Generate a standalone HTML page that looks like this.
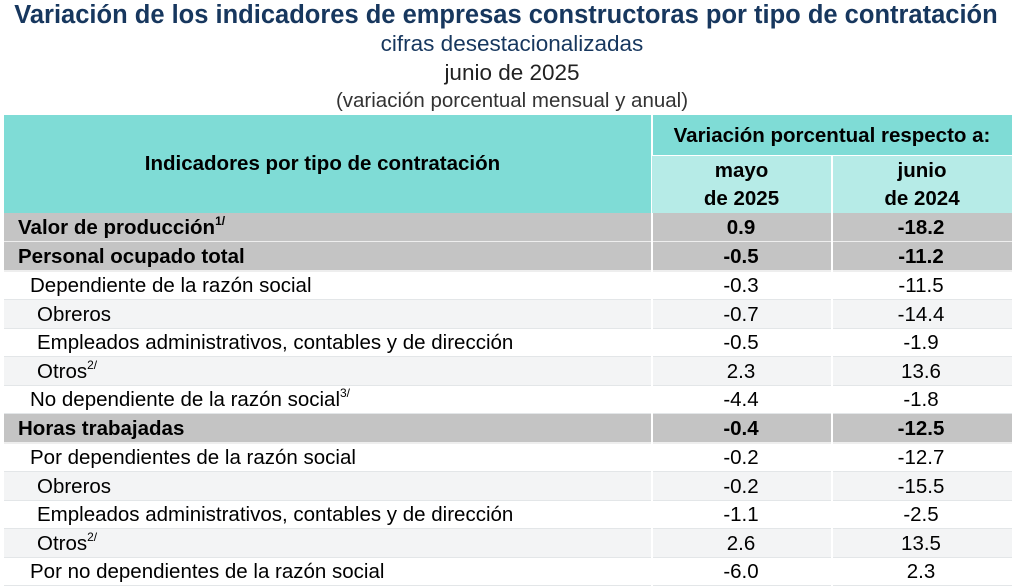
<!DOCTYPE html>
<html><head><meta charset="utf-8"><style>
body{margin:0;width:1024px;height:586px;background:#fff;font-family:"Liberation Sans",Arial,sans-serif;position:relative;overflow:hidden}
.t{position:absolute;left:0;width:1016px;text-align:center;white-space:nowrap}
.c{position:absolute;box-sizing:border-box}
.r{position:absolute;left:4px;width:1008px;height:28px;font-size:20.5px;line-height:29px;border-bottom:1.5px solid #e3e6e8}
.r span{position:absolute;white-space:nowrap}
.r .a{width:180px;left:647px;text-align:center}
.r .b{width:180px;left:827px;text-align:center}
.g{background:#c4c4c4;font-weight:bold;border-bottom:2px solid #eee}
.l{background:#f3f4f5}
sup{font-size:12px;vertical-align:top;line-height:16px}
.vd{position:absolute;left:651px;top:213px;width:1.5px;height:373px;background:#fff}
.vd2{position:absolute;left:831px;top:213px;width:1.5px;height:373px;background:#fff}
</style></head><body>
<div class="t" style="top:0;font-size:25.5px;font-weight:bold;color:#17375e;line-height:30px;left:-2px">Variación de los indicadores de empresas constructoras por tipo de contratación</div>
<div class="t" style="top:31px;font-size:22.5px;color:#17375e;line-height:26px;left:4px">cifras desestacionalizadas</div>
<div class="t" style="top:60px;font-size:22.5px;color:#222;line-height:26px;left:4px">junio de 2025</div>
<div class="t" style="top:89px;font-size:20.5px;color:#333;line-height:24px;left:4px">(variación porcentual mensual y anual)</div>
<div class="c" style="left:4px;top:115px;width:1008px;height:98px;background:#7fdcd6"></div>
<div class="c" style="left:4px;top:115px;width:647px;height:98px;font-size:20.5px;font-weight:bold;line-height:98px;text-align:center;padding-right:10px">Indicadores por tipo de contratación</div>
<div class="c" style="left:651px;top:115px;width:1.5px;height:98px;background:#fff"></div>
<div class="c" style="left:652px;top:115px;width:360px;height:40px;font-size:20.5px;font-weight:bold;line-height:42px;text-align:center">Variación porcentual respecto a:</div>
<div class="c" style="left:652px;top:155px;width:360px;height:58px;background:#b6ebe7;border-top:1.5px solid #fff"></div>
<div class="c" style="left:831px;top:155px;width:1.5px;height:58px;background:#fff"></div>
<div class="c" style="left:652px;top:157px;width:179px;font-size:20.5px;font-weight:bold;line-height:28px;text-align:center">mayo<br>de 2025</div>
<div class="c" style="left:832px;top:157px;width:180px;font-size:20.5px;font-weight:bold;line-height:28px;text-align:center">junio<br>de 2024</div>

<div class="r g" style="top:213px"><span style="left:14px">Valor de producción<sup>1/</sup></span><span class="a">0.9</span><span class="b">-18.2</span></div>
<div class="r g" style="top:242px"><span style="left:14px">Personal ocupado total</span><span class="a">-0.5</span><span class="b">-11.2</span></div>
<div class="r" style="top:271px"><span style="left:26px">Dependiente de la razón social</span><span class="a">-0.3</span><span class="b">-11.5</span></div>
<div class="r l" style="top:299.5px"><span style="left:33px">Obreros</span><span class="a">-0.7</span><span class="b">-14.4</span></div>
<div class="r" style="top:328px"><span style="left:33px">Empleados administrativos, contables y de dirección</span><span class="a">-0.5</span><span class="b">-1.9</span></div>
<div class="r l" style="top:356.5px"><span style="left:33px">Otros<sup>2/</sup></span><span class="a">2.3</span><span class="b">13.6</span></div>
<div class="r" style="top:385px"><span style="left:26px">No dependiente de la razón social<sup>3/</sup></span><span class="a">-4.4</span><span class="b">-1.8</span></div>
<div class="r g" style="top:414px"><span style="left:14px">Horas trabajadas</span><span class="a">-0.4</span><span class="b">-12.5</span></div>
<div class="r" style="top:443px"><span style="left:26px">Por dependientes de la razón social</span><span class="a">-0.2</span><span class="b">-12.7</span></div>
<div class="r l" style="top:471.5px"><span style="left:33px">Obreros</span><span class="a">-0.2</span><span class="b">-15.5</span></div>
<div class="r" style="top:500px"><span style="left:33px">Empleados administrativos, contables y de dirección</span><span class="a">-1.1</span><span class="b">-2.5</span></div>
<div class="r l" style="top:528.5px"><span style="left:33px">Otros<sup>2/</sup></span><span class="a">2.6</span><span class="b">13.5</span></div>
<div class="r" style="top:557px"><span style="left:26px">Por no dependientes de la razón social</span><span class="a">-6.0</span><span class="b">2.3</span></div>
<div class="vd"></div><div class="vd2"></div>
</body></html>
